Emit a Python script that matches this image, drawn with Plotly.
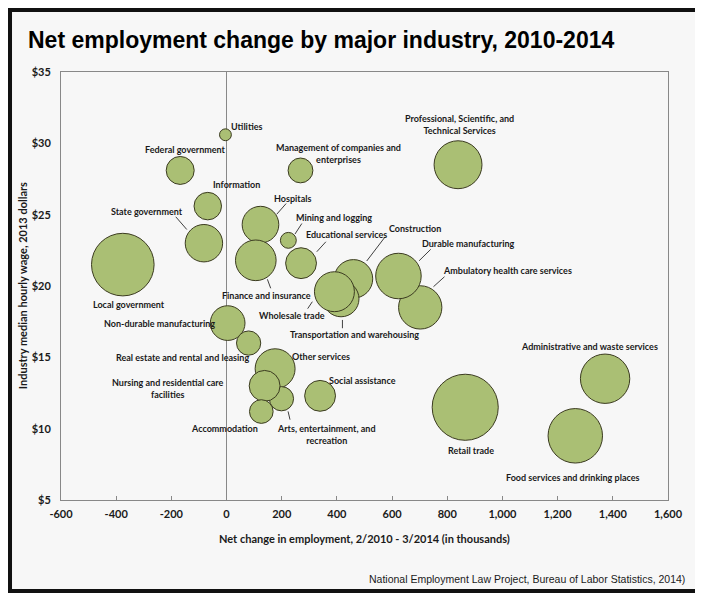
import numpy as np
import plotly.graph_objects as go

# industries, drawn in this order (later ones sit on top)
industries = [
    "Local government", "State government", "Federal government", "Information",
    "Utilities", "Management of companies and enterprises", "Hospitals",
    "Finance and insurance", "Mining and logging", "Educational services",
    "Construction", "Transportation and warehousing", "Wholesale trade",
    "Ambulatory health care services", "Durable manufacturing",
    "Non-durable manufacturing", "Real estate and rental and leasing",
    "Other services", "Arts, entertainment, and recreation",
    "Nursing and residential care facilities", "Accommodation",
    "Social assistance", "Professional, Scientific, and Technical Services",
    "Retail trade", "Food services and drinking places",
    "Administrative and waste services",
]
# net change in employment, 2/2010 - 3/2014 (thousands)
net_change = [-376, -82, -168, -68, -4, 268, 123, 106, 224, 270,
              460, 415, 391, 702, 623, 4, 80, 176, 199, 138, 126,
              339, 839, 865, 1264, 1372]
# median hourly wage, 2013 dollars
wage = [21.5, 23.0, 28.1, 25.6, 30.6, 28.1, 24.3, 21.8, 23.2, 21.6,
        20.5, 19.1, 19.6, 18.5, 20.7, 17.4, 16.0, 14.2, 12.1, 13.0, 11.2,
        12.3, 28.5, 11.5, 9.5, 13.5]
# total employment (millions) -> bubble area
employment = [14.0, 5.0, 2.8, 2.7, 0.5, 2.2, 4.8, 5.9, 0.9, 3.4,
              5.3, 4.6, 5.7, 6.7, 7.4, 4.3, 2.1, 5.7, 2.1, 3.4, 2.0,
              3.4, 8.2, 15.6, 10.6, 8.7]

x_ticks = list(range(-600, 1601, 200))
y_ticks = list(range(5, 36, 5))

# label text and where it sits (data units)
labels = [
    ("Utilities", 72, 31.2),
    ("Federal government", -150, 29.6),
    ("Management of companies and<br>enterprises", 406, 29.3),
    ("Information", 37, 27.1),
    ("State government", -288, 25.2),
    ("Local government", -352, 18.7),
    ("Hospitals", 239, 26.15),
    ("Mining and logging", 388, 24.8),
    ("Educational services", 436, 23.6),
    ("Construction", 682, 24.0),
    ("Durable manufacturing", 877, 23.0),
    ("Ambulatory health care services", 1020, 21.1),
    ("Finance and insurance", 143, 19.35),
    ("Wholesale trade", 237, 17.95),
    ("Transportation and warehousing", 465, 16.6),
    ("Non-durable manufacturing", -244, 17.35),
    ("Real estate and rental and leasing", -160, 15.0),
    ("Other services", 343, 15.05),
    ("Nursing and residential care<br>facilities", -211, 12.8),
    ("Social assistance", 493, 13.4),
    ("Accommodation", -6, 10.0),
    ("Arts, entertainment, and<br>recreation", 364, 9.6),
    ("Professional, Scientific, and<br>Technical Services", 846, 31.3),
    ("Administrative and waste services", 1316, 15.75),
    ("Retail trade", 887, 8.5),
    ("Food services and drinking places", 1257, 6.6),
]

# leader lines (x0, y0, x1, y1)
leaders = [
    (-184, 24.85, -144, 23.96),
    (216, 25.78, 182, 25.03),
    (273, 24.38, 248, 23.64),
    (360, 23.10, 327, 22.40),
    (575, 23.45, 508, 21.75),
    (740, 22.57, 698, 21.77),
    (790, 20.65, 750, 19.95),
    (160, 19.84, 148, 20.47),
    (294, 18.41, 311, 18.90),
    (420, 17.62, 420, 17.04),
    (230, 10.63, 223, 11.21),
]

LABEL_FONT = dict(family="Lato", size=9, color="#1a1a1a", weight="bold")
AXIS_FONT = dict(family="Lato", size=11, color="#1a1a1a", weight="bold")

sizes = 2 * np.sqrt(np.array(employment) * 70)

fig = go.Figure()
fig.add_trace(go.Scatter(
    x=net_change, y=wage, mode="markers", text=industries,
    marker=dict(size=sizes, sizemode="diameter", color="#aabf74",
                opacity=1, line=dict(color="#3b3b20", width=1)),
    hoverinfo="text+x+y", showlegend=False,
))

annotations = []
for text, lx, ly in labels:
    annotations.append(dict(x=lx, y=ly, xref="x", yref="y", text=text,
                            showarrow=False, font=LABEL_FONT, align="center"))

annotations += [
    dict(x=-0.064, y=0.5, xref="paper", yref="paper", textangle=-90,
         xanchor="center", yanchor="middle",
         text="Industry median hourly wage, 2013 dollars", showarrow=False,
         font=AXIS_FONT),
    dict(x=0.5, y=-0.089, xref="paper", yref="paper", yanchor="middle",
         text="Net change in employment, 2/2010 - 3/2014 (in thousands)",
         showarrow=False, font=AXIS_FONT),
    dict(x=1.031, y=-0.184, xref="paper", yref="paper", xanchor="right",
         yanchor="middle",
         text="National Employment Law Project, Bureau of Labor Statistics, 2014)",
         showarrow=False,
         font=dict(family="Liberation Sans", size=10.5, color="#1a1a1a")),
]

shapes = [dict(type="line", xref="x", yref="y", x0=a, y0=b, x1=c, y1=d,
               line=dict(color="#404040", width=1)) for a, b, c, d in leaders]
# outer black frame
shapes.append(dict(type="rect", xref="paper", yref="paper", layer="below",
                   x0=-0.084, x1=1.051, y0=-0.2126, y1=1.1449,
                   fillcolor="#f7f7f7", line=dict(color="#111111", width=4)))

# page body has an 8px margin, so the figure is 8px smaller and margins shifted
fig.update_layout(
    width=695, height=591,
    margin=dict(l=53, r=35, t=64, b=99),
    paper_bgcolor="white", plot_bgcolor="#f7f7f7",
    title=dict(text="<b>Net employment change by major industry, 2010-2014</b>",
               x=20 / 695, xanchor="left", xref="container",
               y=1 - 32 / 591, yanchor="middle", yref="container",
               font=dict(family="Liberation Sans", size=23, color="black")),
    annotations=annotations, shapes=shapes,
    # tick marks drawn on the vertical line at x = 0
    yaxis2=dict(overlaying="y", anchor="free", position=600 / 2200,
                side="left", range=[5, 35], tickvals=y_ticks, ticks="inside",
                ticklen=4, tickcolor="#888888", showticklabels=False,
                showline=False, showgrid=False, zeroline=False),
)
fig.update_xaxes(range=[-600, 1600], tickvals=x_ticks,
                 ticktext=[f"{v:,}" for v in x_ticks], tickfont=AXIS_FONT,
                 showgrid=False, showline=True, mirror=True, linecolor="#888888",
                 zeroline=True, zerolinecolor="#888888", zerolinewidth=1,
                 ticks="inside", ticklen=4, tickcolor="#888888",
                 ticklabelstandoff=4)
fig.update_yaxes(selector=dict(overlaying=None), range=[5, 35], tickvals=y_ticks,
                 ticktext=[f"${v}" for v in y_ticks], tickfont=AXIS_FONT,
                 showgrid=False, showline=True, mirror=True, linecolor="#888888",
                 zeroline=False, ticks="", ticklabelstandoff=7)

fig.write_html("out.html")
